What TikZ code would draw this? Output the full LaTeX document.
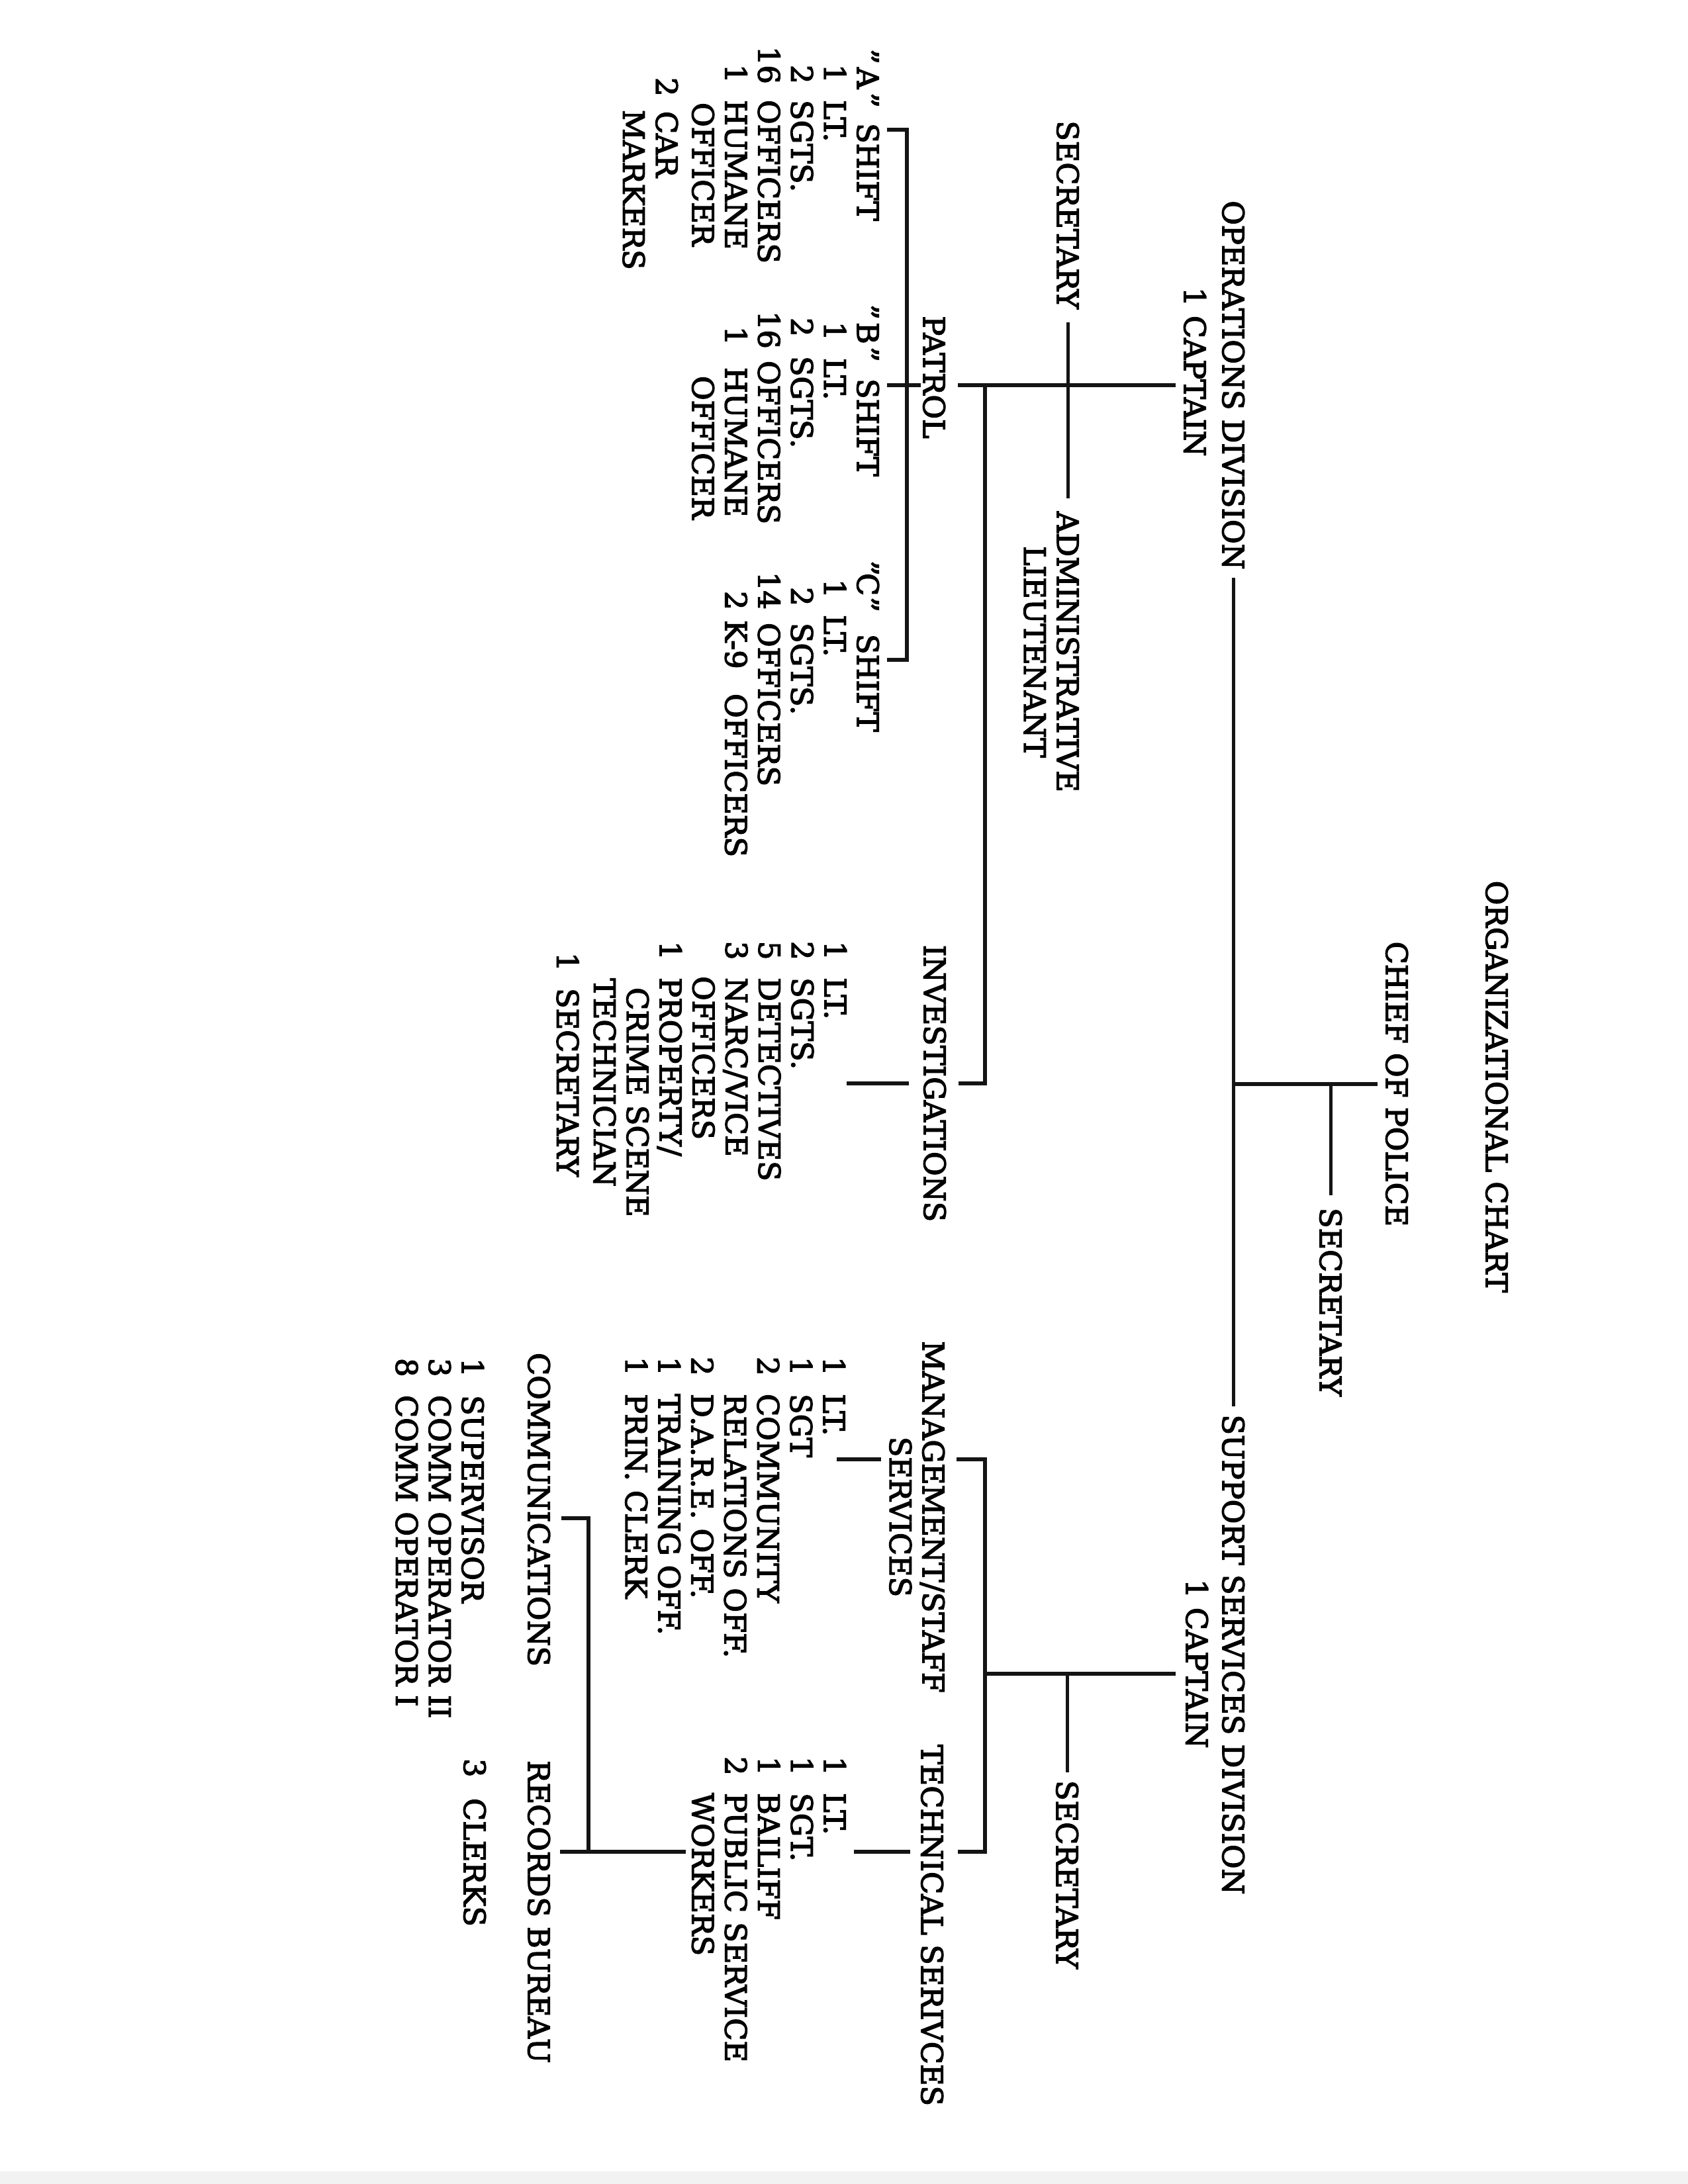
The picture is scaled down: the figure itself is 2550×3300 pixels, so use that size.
\documentclass[tikz,border=0pt]{standalone}
\usepackage{fontspec}
\setmainfont{DejaVu Serif}[FakeBold=3]
\newlength\px
\setlength\px{0.2409pt}
\newcommand\At[2]{\rlap{\hspace*{#1\px}#2}}
\tikzset{
  txt/.style={inner sep=0pt, outer sep=0pt, rotate=-90, text=black,
    font=\fontsize{10.75pt}{12pt}\selectfont},
  blk/.style={txt, align=left, anchor=north west},
  ln/.style={line width=1.25pt, draw=black!92, line cap=butt, line join=miter},
}
\begin{document}
\begin{tikzpicture}[x=0.2409pt, y=-0.2409pt]
\fill[white] (0,0) rectangle (2550,3300);
\useasboundingbox (0,0) rectangle (2550,3300);
\fill[black!5] (0,3281) rectangle (2550,3300);

% headings
\node[txt, anchor=north] (title) at (2278,1642) {ORGANIZATIONAL CHART};
\node[txt, anchor=north] (chief) at (2127,1638) {CHIEF OF POLICE};
\node[txt, anchor=north west] (csec) at (2027,1825) {SECRETARY};
\node[txt, anchor=north] (opdiv) at (1880,582) {OPERATIONS DIVISION};
\node[txt, anchor=north] (opcap) at (1822,562) {1 CAPTAIN};
\node[txt, anchor=north east] (opsec) at (1630,467) {SECRETARY};
\node[txt, align=center, anchor=north west] (admin) at (1630,773) {ADMINISTRATIVE\\LIEUTENANT};
\node[txt, anchor=north] (patrol) at (1428,570) {PATROL};
\node[txt, anchor=north] (inv) at (1429,1637) {INVESTIGATIONS};
\node[txt, anchor=north] (supdiv) at (1880,2500) {SUPPORT SERVICES DIVISION};
\node[txt, anchor=north] (supcap) at (1825,2514) {1 CAPTAIN};
\node[txt, anchor=north west] (supsec) at (1629,2690) {SECRETARY};
\node[txt, align=center, anchor=north] (mgmt) at (1427,2292) {MANAGEMENT/STAFF\\SERVICES};
\node[txt, anchor=north west] (tech) at (1425,2636) {TECHNICAL SERIVCES};
\node[txt, anchor=north] (comm) at (831,2281) {COMMUNICATIONS};
\node[txt, anchor=north west] (rec) at (831,2660) {RECORDS BUREAU};

% lists
\node[blk] (alist) at (1328,68) {%
\At{4}{"}\At{32}{A}\At{70}{"}\At{116}{SHIFT}\\
\At{27}{1}\At{81}{LT.}\\
\At{28}{2}\At{81}{SGTS.}\\
\At{0}{16}\At{81}{OFFICERS}\\
\At{27}{1}\At{81}{HUMANE}\\
\At{85}{OFFICER}\\[5\px]
\At{47}{2}\At{98}{CAR}\\
\At{96}{MARKERS}};
\node[blk] (blist) at (1328,458) {%
\At{0}{"}\At{27}{B}\At{64}{"}\At{112}{SHIFT}\\
\At{26}{1}\At{81}{LT.}\\
\At{20}{2}\At{78}{SGTS.}\\
\At{10}{16}\At{85}{OFFICERS}\\
\At{33}{1}\At{95}{HUMANE}\\
\At{108}{OFFICER}};
\node[blk] (clist) at (1328,845) {%
\At{0}{"}\At{19}{C}\At{55}{"}\At{111}{SHIFT}\\
\At{28}{1}\At{82}{LT.}\\
\At{40}{2}\At{94}{SGTS.}\\
\At{17}{14}\At{94}{OFFICERS}\\
\At{46}{2}\At{90}{K-9}\At{201}{OFFICERS}};
\node[blk] (invl) at (1279,1420) {%
\At{0}{1}\At{55}{LT.}\\
\At{0}{2}\At{55}{SGTS.}\\
\At{0}{5}\At{55}{DETECTIVES}\\
\At{0}{3}\At{55}{NARC/VICE}\\
\At{53}{OFFICERS}\\
\At{0}{1}\At{55}{PROPERTY/}\\
\At{70}{CRIME SCENE}\\
\At{56}{TECHNICIAN}\\[6\px]
\At{17}{1}\At{71}{SECRETARY}};
\node[blk] (mlist) at (1277,2048) {%
\At{0}{1}\At{56}{LT.}\\
\At{0}{1}\At{56}{SGT}\\
\At{0}{2}\At{56}{COMMUNITY}\\
\At{56}{RELATIONS OFF.}\\
\At{0}{2}\At{56}{D.A.R.E. OFF.}\\
\At{0}{1}\At{56}{TRAINING OFF.}\\
\At{0}{1}\At{56}{PRIN. CLERK}};
\node[blk] (tlist) at (1278,2652) {%
\At{0}{1}\At{55}{LT.}\\
\At{0}{1}\At{55}{SGT.}\\
\At{0}{1}\At{55}{BAILIFF}\\
\At{0}{2}\At{55}{PUBLIC SERVICE}\\
\At{55}{WORKERS}};
\node[blk] (colist) at (731,2050) {%
\At{0}{1}\At{56}{SUPERVISOR}\\
\At{0}{3}\At{56}{COMM OPERATOR II}\\
\At{0}{8}\At{56}{COMM OPERATOR I}};
\node[blk] (clerks) at (734,2655) {\At{0}{3}\At{60}{CLERKS}};

% connectors
\draw[ln, shorten <=3pt, shorten >=3pt] (opdiv.east) -- (opdiv.east |- supdiv.west);
\coordinate (jc) at (opdiv.east |- chief.south);
\draw[ln, shorten >=3pt] (jc) -- (chief.south);
\draw[ln, shorten >=4.5pt] (csec.west |- jc) -- (csec.west);
\draw[ln, shorten <=2.9pt, shorten >=4.6pt] (opcap.south |- opdiv.north) -- (patrol.north |- opdiv.north);
\draw[ln, shorten <=4.8pt, shorten >=4.8pt] (opsec.east) -- (opsec.east |- admin.north west);
\coordinate (bj) at (1488,582);
\draw[ln, shorten >=4.6pt] (bj) |- (inv.north);
\draw[ln, shorten <=5.3pt] (inv.south) -- (invl.north west |- inv.south);
\draw[ln, shorten <=0.8pt, shorten >=2.9pt] (patrol.south |- opdiv.north) -- (alist.north west |- opdiv.north);
\coordinate (bra1) at (1340,196); \coordinate (bra2) at (1370,196);
\coordinate (bra3) at (1370,997); \coordinate (bra4) at (1340,997);
\draw[ln] (bra1) -- (bra2) -- (bra3) -- (bra4);
\coordinate (sh2) at (1488,2529);
\draw[ln, shorten <=3.6pt] (supcap.south |- sh2) -- (sh2);
\draw[ln, shorten >=3pt] (supsec.west |- sh2) -- (supsec.west);
\coordinate (mb1) at (1445,2205); \coordinate (mb2) at (1488,2205);
\coordinate (mb3) at (1488,2798); \coordinate (mb4) at (1447,2798);
\draw[ln] (mb1) -- (mb2) -- (mb3) -- (mb4);
\coordinate (mt1) at (1331,2205); \coordinate (mt2) at (1264,2205);
\draw[ln] (mt1) -- (mt2);
\coordinate (tt1) at (1375,2798); \coordinate (tt2) at (1290,2798);
\draw[ln] (tt1) -- (tt2);
\coordinate (tw) at (1036,2798);
\coordinate (cb1) at (848,2294); \coordinate (cb2) at (889,2294);
\coordinate (cb3) at (889,2798); \coordinate (cb4) at (846,2798);
\draw[ln] (cb1) -- (cb2) -- (cb3) -- (cb4);
\draw[ln] (tw) -- (cb3);
\end{tikzpicture}
\end{document}
